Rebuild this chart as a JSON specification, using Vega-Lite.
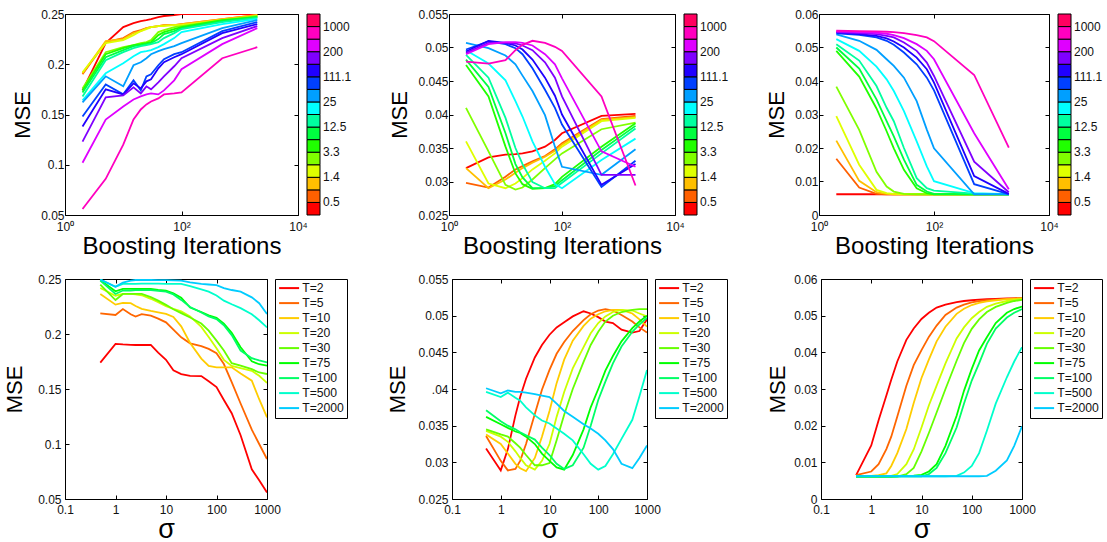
{
"$schema":"https://vega.github.io/schema/vega-lite/v6.json",
"background":"white",
"padding":{"left":3,"top":7,"right":0,"bottom":0},
"datasets":{
"tl":[
{"k":0,"it":2,"mse":0.174},{"k":0,"it":5,"mse":0.221},{"k":0,"it":10,"mse":0.237},{"k":0,"it":15,"mse":0.241},{"k":0,"it":20,"mse":0.243},{"k":0,"it":25,"mse":0.244},{"k":0,"it":30,"mse":0.245},{"k":0,"it":40,"mse":0.247},{"k":0,"it":50,"mse":0.248},{"k":0,"it":75,"mse":0.249},{"k":0,"it":100,"mse":0.25},{"k":0,"it":500,"mse":0.25},{"k":0,"it":2000,"mse":0.25},
{"k":1,"it":2,"mse":0.19},{"k":1,"it":5,"mse":0.222},{"k":1,"it":10,"mse":0.226},{"k":1,"it":15,"mse":0.232},{"k":1,"it":20,"mse":0.234},{"k":1,"it":25,"mse":0.236},{"k":1,"it":30,"mse":0.237},{"k":1,"it":40,"mse":0.238},{"k":1,"it":50,"mse":0.239},{"k":1,"it":75,"mse":0.239},{"k":1,"it":100,"mse":0.24},{"k":1,"it":500,"mse":0.245},{"k":1,"it":2000,"mse":0.249},
{"k":2,"it":2,"mse":0.191},{"k":2,"it":5,"mse":0.223},{"k":2,"it":10,"mse":0.225},{"k":2,"it":15,"mse":0.231},{"k":2,"it":20,"mse":0.233},{"k":2,"it":25,"mse":0.236},{"k":2,"it":30,"mse":0.237},{"k":2,"it":40,"mse":0.238},{"k":2,"it":50,"mse":0.239},{"k":2,"it":75,"mse":0.239},{"k":2,"it":100,"mse":0.24},{"k":2,"it":500,"mse":0.245},{"k":2,"it":2000,"mse":0.249},
{"k":3,"it":2,"mse":0.192},{"k":3,"it":5,"mse":0.221},{"k":3,"it":10,"mse":0.224},{"k":3,"it":15,"mse":0.229},{"k":3,"it":20,"mse":0.233},{"k":3,"it":25,"mse":0.235},{"k":3,"it":30,"mse":0.237},{"k":3,"it":40,"mse":0.238},{"k":3,"it":50,"mse":0.238},{"k":3,"it":75,"mse":0.239},{"k":3,"it":100,"mse":0.239},{"k":3,"it":500,"mse":0.244},{"k":3,"it":2000,"mse":0.248},
{"k":4,"it":2,"mse":0.176},{"k":4,"it":5,"mse":0.212},{"k":4,"it":10,"mse":0.217},{"k":4,"it":15,"mse":0.219},{"k":4,"it":20,"mse":0.221},{"k":4,"it":25,"mse":0.222},{"k":4,"it":30,"mse":0.224},{"k":4,"it":40,"mse":0.232},{"k":4,"it":50,"mse":0.234},{"k":4,"it":75,"mse":0.237},{"k":4,"it":100,"mse":0.238},{"k":4,"it":500,"mse":0.244},{"k":4,"it":2000,"mse":0.248},
{"k":5,"it":2,"mse":0.174},{"k":5,"it":5,"mse":0.21},{"k":5,"it":10,"mse":0.216},{"k":5,"it":15,"mse":0.219},{"k":5,"it":20,"mse":0.22},{"k":5,"it":25,"mse":0.221},{"k":5,"it":30,"mse":0.222},{"k":5,"it":40,"mse":0.229},{"k":5,"it":50,"mse":0.232},{"k":5,"it":75,"mse":0.235},{"k":5,"it":100,"mse":0.237},{"k":5,"it":500,"mse":0.244},{"k":5,"it":2000,"mse":0.247},
{"k":6,"it":2,"mse":0.172},{"k":6,"it":5,"mse":0.207},{"k":6,"it":10,"mse":0.214},{"k":6,"it":15,"mse":0.218},{"k":6,"it":20,"mse":0.219},{"k":6,"it":25,"mse":0.22},{"k":6,"it":30,"mse":0.221},{"k":6,"it":40,"mse":0.225},{"k":6,"it":50,"mse":0.23},{"k":6,"it":75,"mse":0.233},{"k":6,"it":100,"mse":0.236},{"k":6,"it":500,"mse":0.243},{"k":6,"it":2000,"mse":0.247},
{"k":7,"it":2,"mse":0.168},{"k":7,"it":5,"mse":0.204},{"k":7,"it":10,"mse":0.212},{"k":7,"it":15,"mse":0.216},{"k":7,"it":20,"mse":0.218},{"k":7,"it":25,"mse":0.219},{"k":7,"it":30,"mse":0.22},{"k":7,"it":40,"mse":0.222},{"k":7,"it":50,"mse":0.226},{"k":7,"it":75,"mse":0.231},{"k":7,"it":100,"mse":0.235},{"k":7,"it":500,"mse":0.242},{"k":7,"it":2000,"mse":0.246},
{"k":8,"it":2,"mse":0.164},{"k":8,"it":5,"mse":0.191},{"k":8,"it":10,"mse":0.201},{"k":8,"it":15,"mse":0.208},{"k":8,"it":20,"mse":0.212},{"k":8,"it":25,"mse":0.213},{"k":8,"it":30,"mse":0.214},{"k":8,"it":40,"mse":0.217},{"k":8,"it":50,"mse":0.22},{"k":8,"it":75,"mse":0.226},{"k":8,"it":100,"mse":0.232},{"k":8,"it":500,"mse":0.24},{"k":8,"it":2000,"mse":0.245},
{"k":9,"it":2,"mse":0.162},{"k":9,"it":5,"mse":0.188},{"k":9,"it":10,"mse":0.178},{"k":9,"it":15,"mse":0.199},{"k":9,"it":20,"mse":0.202},{"k":9,"it":25,"mse":0.206},{"k":9,"it":30,"mse":0.21},{"k":9,"it":40,"mse":0.213},{"k":9,"it":50,"mse":0.215},{"k":9,"it":75,"mse":0.218},{"k":9,"it":100,"mse":0.221},{"k":9,"it":500,"mse":0.236},{"k":9,"it":2000,"mse":0.244},
{"k":10,"it":2,"mse":0.148},{"k":10,"it":5,"mse":0.18},{"k":10,"it":10,"mse":0.17},{"k":10,"it":15,"mse":0.184},{"k":10,"it":20,"mse":0.174},{"k":10,"it":25,"mse":0.188},{"k":10,"it":30,"mse":0.19},{"k":10,"it":40,"mse":0.199},{"k":10,"it":50,"mse":0.205},{"k":10,"it":75,"mse":0.21},{"k":10,"it":100,"mse":0.212},{"k":10,"it":500,"mse":0.233},{"k":10,"it":2000,"mse":0.242},
{"k":11,"it":2,"mse":0.138},{"k":11,"it":5,"mse":0.175},{"k":11,"it":10,"mse":0.17},{"k":11,"it":15,"mse":0.181},{"k":11,"it":20,"mse":0.176},{"k":11,"it":25,"mse":0.183},{"k":11,"it":30,"mse":0.185},{"k":11,"it":40,"mse":0.196},{"k":11,"it":50,"mse":0.202},{"k":11,"it":75,"mse":0.207},{"k":11,"it":100,"mse":0.21},{"k":11,"it":500,"mse":0.231},{"k":11,"it":2000,"mse":0.24},
{"k":12,"it":2,"mse":0.123},{"k":12,"it":5,"mse":0.167},{"k":12,"it":10,"mse":0.169},{"k":12,"it":15,"mse":0.177},{"k":12,"it":20,"mse":0.171},{"k":12,"it":25,"mse":0.178},{"k":12,"it":30,"mse":0.175},{"k":12,"it":40,"mse":0.182},{"k":12,"it":50,"mse":0.188},{"k":12,"it":75,"mse":0.198},{"k":12,"it":100,"mse":0.206},{"k":12,"it":500,"mse":0.226},{"k":12,"it":2000,"mse":0.238},
{"k":13,"it":2,"mse":0.102},{"k":13,"it":5,"mse":0.145},{"k":13,"it":10,"mse":0.158},{"k":13,"it":15,"mse":0.165},{"k":13,"it":20,"mse":0.168},{"k":13,"it":25,"mse":0.17},{"k":13,"it":30,"mse":0.171},{"k":13,"it":40,"mse":0.17},{"k":13,"it":50,"mse":0.174},{"k":13,"it":75,"mse":0.184},{"k":13,"it":100,"mse":0.195},{"k":13,"it":500,"mse":0.22},{"k":13,"it":2000,"mse":0.236},
{"k":14,"it":2,"mse":0.056},{"k":14,"it":5,"mse":0.086},{"k":14,"it":10,"mse":0.12},{"k":14,"it":15,"mse":0.145},{"k":14,"it":20,"mse":0.155},{"k":14,"it":25,"mse":0.16},{"k":14,"it":30,"mse":0.163},{"k":14,"it":40,"mse":0.166},{"k":14,"it":50,"mse":0.17},{"k":14,"it":75,"mse":0.171},{"k":14,"it":100,"mse":0.172},{"k":14,"it":500,"mse":0.206},{"k":14,"it":2000,"mse":0.217}
],
"tm":[
{"k":0,"it":2,"mse":0.032},{"k":0,"it":5,"mse":0.0336},{"k":0,"it":10,"mse":0.034},{"k":0,"it":15,"mse":0.0341},{"k":0,"it":20,"mse":0.0342},{"k":0,"it":30,"mse":0.0345},{"k":0,"it":50,"mse":0.0352},{"k":0,"it":75,"mse":0.0362},{"k":0,"it":100,"mse":0.0372},{"k":0,"it":500,"mse":0.0398},{"k":0,"it":2000,"mse":0.0401},
{"k":1,"it":2,"mse":0.0298},{"k":1,"it":5,"mse":0.0291},{"k":1,"it":10,"mse":0.0307},{"k":1,"it":15,"mse":0.0318},{"k":1,"it":20,"mse":0.0323},{"k":1,"it":30,"mse":0.033},{"k":1,"it":50,"mse":0.0338},{"k":1,"it":75,"mse":0.0348},{"k":1,"it":100,"mse":0.0357},{"k":1,"it":500,"mse":0.0393},{"k":1,"it":2000,"mse":0.0398},
{"k":2,"it":2,"mse":0.032},{"k":2,"it":5,"mse":0.029},{"k":2,"it":10,"mse":0.0303},{"k":2,"it":15,"mse":0.0313},{"k":2,"it":20,"mse":0.032},{"k":2,"it":30,"mse":0.0328},{"k":2,"it":50,"mse":0.0337},{"k":2,"it":75,"mse":0.0346},{"k":2,"it":100,"mse":0.0355},{"k":2,"it":500,"mse":0.0392},{"k":2,"it":2000,"mse":0.0396},
{"k":3,"it":2,"mse":0.036},{"k":3,"it":5,"mse":0.0297},{"k":3,"it":10,"mse":0.029},{"k":3,"it":15,"mse":0.0297},{"k":3,"it":20,"mse":0.0305},{"k":3,"it":30,"mse":0.0318},{"k":3,"it":50,"mse":0.0331},{"k":3,"it":75,"mse":0.0342},{"k":3,"it":100,"mse":0.0352},{"k":3,"it":500,"mse":0.039},{"k":3,"it":2000,"mse":0.0395},
{"k":4,"it":2,"mse":0.041},{"k":4,"it":5,"mse":0.0345},{"k":4,"it":10,"mse":0.0295},{"k":4,"it":15,"mse":0.0288},{"k":4,"it":20,"mse":0.0291},{"k":4,"it":30,"mse":0.0303},{"k":4,"it":50,"mse":0.032},{"k":4,"it":75,"mse":0.0333},{"k":4,"it":100,"mse":0.0342},{"k":4,"it":500,"mse":0.0378},{"k":4,"it":2000,"mse":0.0388},
{"k":5,"it":2,"mse":0.0474},{"k":5,"it":5,"mse":0.0427},{"k":5,"it":10,"mse":0.0352},{"k":5,"it":15,"mse":0.0312},{"k":5,"it":20,"mse":0.0296},{"k":5,"it":30,"mse":0.0289},{"k":5,"it":50,"mse":0.029},{"k":5,"it":75,"mse":0.0296},{"k":5,"it":100,"mse":0.0307},{"k":5,"it":500,"mse":0.0352},{"k":5,"it":2000,"mse":0.0387},
{"k":6,"it":2,"mse":0.0482},{"k":6,"it":5,"mse":0.0441},{"k":6,"it":10,"mse":0.0372},{"k":6,"it":15,"mse":0.0326},{"k":6,"it":20,"mse":0.0306},{"k":6,"it":30,"mse":0.029},{"k":6,"it":50,"mse":0.029},{"k":6,"it":75,"mse":0.0293},{"k":6,"it":100,"mse":0.0302},{"k":6,"it":500,"mse":0.0347},{"k":6,"it":2000,"mse":0.0383},
{"k":7,"it":2,"mse":0.0489},{"k":7,"it":5,"mse":0.0455},{"k":7,"it":10,"mse":0.0395},{"k":7,"it":15,"mse":0.035},{"k":7,"it":20,"mse":0.0326},{"k":7,"it":30,"mse":0.0299},{"k":7,"it":50,"mse":0.029},{"k":7,"it":75,"mse":0.029},{"k":7,"it":100,"mse":0.0298},{"k":7,"it":500,"mse":0.0342},{"k":7,"it":2000,"mse":0.0379},
{"k":8,"it":2,"mse":0.0496},{"k":8,"it":5,"mse":0.0476},{"k":8,"it":10,"mse":0.0451},{"k":8,"it":15,"mse":0.042},{"k":8,"it":20,"mse":0.0397},{"k":8,"it":30,"mse":0.036},{"k":8,"it":50,"mse":0.0322},{"k":8,"it":75,"mse":0.0296},{"k":8,"it":100,"mse":0.029},{"k":8,"it":500,"mse":0.0332},{"k":8,"it":2000,"mse":0.0364},
{"k":9,"it":2,"mse":0.0507},{"k":9,"it":5,"mse":0.0499},{"k":9,"it":10,"mse":0.0488},{"k":9,"it":15,"mse":0.0475},{"k":9,"it":20,"mse":0.0458},{"k":9,"it":30,"mse":0.0435},{"k":9,"it":50,"mse":0.0399},{"k":9,"it":75,"mse":0.0352},{"k":9,"it":100,"mse":0.0322},{"k":9,"it":500,"mse":0.031},{"k":9,"it":2000,"mse":0.0348},
{"k":10,"it":2,"mse":0.0497},{"k":10,"it":5,"mse":0.0509},{"k":10,"it":10,"mse":0.0505},{"k":10,"it":15,"mse":0.0499},{"k":10,"it":20,"mse":0.049},{"k":10,"it":30,"mse":0.0469},{"k":10,"it":50,"mse":0.0437},{"k":10,"it":75,"mse":0.041},{"k":10,"it":100,"mse":0.0385},{"k":10,"it":500,"mse":0.0292},{"k":10,"it":2000,"mse":0.0331},
{"k":11,"it":2,"mse":0.0494},{"k":11,"it":5,"mse":0.051},{"k":11,"it":10,"mse":0.0507},{"k":11,"it":15,"mse":0.0503},{"k":11,"it":20,"mse":0.0497},{"k":11,"it":30,"mse":0.0482},{"k":11,"it":50,"mse":0.0455},{"k":11,"it":75,"mse":0.0428},{"k":11,"it":100,"mse":0.04},{"k":11,"it":500,"mse":0.0295},{"k":11,"it":2000,"mse":0.0326},
{"k":12,"it":2,"mse":0.0492},{"k":12,"it":5,"mse":0.0507},{"k":12,"it":10,"mse":0.0507},{"k":12,"it":15,"mse":0.0506},{"k":12,"it":20,"mse":0.0503},{"k":12,"it":30,"mse":0.0496},{"k":12,"it":50,"mse":0.0478},{"k":12,"it":75,"mse":0.0455},{"k":12,"it":100,"mse":0.0427},{"k":12,"it":500,"mse":0.031},{"k":12,"it":2000,"mse":0.031},
{"k":13,"it":2,"mse":0.049},{"k":13,"it":5,"mse":0.0505},{"k":13,"it":10,"mse":0.0508},{"k":13,"it":15,"mse":0.0508},{"k":13,"it":20,"mse":0.0507},{"k":13,"it":30,"mse":0.0503},{"k":13,"it":50,"mse":0.049},{"k":13,"it":75,"mse":0.0475},{"k":13,"it":100,"mse":0.0454},{"k":13,"it":500,"mse":0.0345},{"k":13,"it":2000,"mse":0.0322},
{"k":14,"it":2,"mse":0.0479},{"k":14,"it":5,"mse":0.0476},{"k":14,"it":10,"mse":0.0481},{"k":14,"it":15,"mse":0.0496},{"k":14,"it":20,"mse":0.0504},{"k":14,"it":30,"mse":0.051},{"k":14,"it":50,"mse":0.0507},{"k":14,"it":75,"mse":0.0501},{"k":14,"it":100,"mse":0.0495},{"k":14,"it":500,"mse":0.0427},{"k":14,"it":2000,"mse":0.0294}
],
"tr":[
{"k":0,"it":2,"mse":0.0062},{"k":0,"it":5,"mse":0.0062},{"k":0,"it":10,"mse":0.0062},{"k":0,"it":15,"mse":0.0062},{"k":0,"it":20,"mse":0.0062},{"k":0,"it":30,"mse":0.0062},{"k":0,"it":50,"mse":0.0062},{"k":0,"it":75,"mse":0.0062},{"k":0,"it":100,"mse":0.0062},{"k":0,"it":500,"mse":0.0062},{"k":0,"it":2000,"mse":0.0062},
{"k":1,"it":2,"mse":0.0168},{"k":1,"it":5,"mse":0.0082},{"k":1,"it":10,"mse":0.0063},{"k":1,"it":15,"mse":0.0062},{"k":1,"it":20,"mse":0.0062},{"k":1,"it":30,"mse":0.0062},{"k":1,"it":50,"mse":0.0062},{"k":1,"it":75,"mse":0.0062},{"k":1,"it":100,"mse":0.0062},{"k":1,"it":500,"mse":0.0062},{"k":1,"it":2000,"mse":0.0062},
{"k":2,"it":2,"mse":0.0222},{"k":2,"it":5,"mse":0.0102},{"k":2,"it":10,"mse":0.0068},{"k":2,"it":15,"mse":0.0063},{"k":2,"it":20,"mse":0.0062},{"k":2,"it":30,"mse":0.0062},{"k":2,"it":50,"mse":0.0062},{"k":2,"it":75,"mse":0.0062},{"k":2,"it":100,"mse":0.0062},{"k":2,"it":500,"mse":0.0062},{"k":2,"it":2000,"mse":0.0062},
{"k":3,"it":2,"mse":0.0295},{"k":3,"it":5,"mse":0.015},{"k":3,"it":10,"mse":0.0075},{"k":3,"it":15,"mse":0.0065},{"k":3,"it":20,"mse":0.0063},{"k":3,"it":30,"mse":0.0062},{"k":3,"it":50,"mse":0.0062},{"k":3,"it":75,"mse":0.0062},{"k":3,"it":100,"mse":0.0062},{"k":3,"it":500,"mse":0.0062},{"k":3,"it":2000,"mse":0.0062},
{"k":4,"it":2,"mse":0.0383},{"k":4,"it":5,"mse":0.0254},{"k":4,"it":10,"mse":0.0129},{"k":4,"it":15,"mse":0.0085},{"k":4,"it":20,"mse":0.007},{"k":4,"it":30,"mse":0.0063},{"k":4,"it":50,"mse":0.0062},{"k":4,"it":75,"mse":0.0062},{"k":4,"it":100,"mse":0.0062},{"k":4,"it":500,"mse":0.0062},{"k":4,"it":2000,"mse":0.0062},
{"k":5,"it":2,"mse":0.049},{"k":5,"it":5,"mse":0.0413},{"k":5,"it":10,"mse":0.0318},{"k":5,"it":15,"mse":0.025},{"k":5,"it":20,"mse":0.0199},{"k":5,"it":30,"mse":0.0135},{"k":5,"it":50,"mse":0.008},{"k":5,"it":75,"mse":0.0065},{"k":5,"it":100,"mse":0.0062},{"k":5,"it":500,"mse":0.0062},{"k":5,"it":2000,"mse":0.0062},
{"k":6,"it":2,"mse":0.05},{"k":6,"it":5,"mse":0.0437},{"k":6,"it":10,"mse":0.0345},{"k":6,"it":15,"mse":0.028},{"k":6,"it":20,"mse":0.0235},{"k":6,"it":30,"mse":0.0165},{"k":6,"it":50,"mse":0.009},{"k":6,"it":75,"mse":0.007},{"k":6,"it":100,"mse":0.0063},{"k":6,"it":500,"mse":0.0062},{"k":6,"it":2000,"mse":0.0062},
{"k":7,"it":2,"mse":0.051},{"k":7,"it":5,"mse":0.0461},{"k":7,"it":10,"mse":0.0385},{"k":7,"it":15,"mse":0.032},{"k":7,"it":20,"mse":0.028},{"k":7,"it":30,"mse":0.02},{"k":7,"it":50,"mse":0.011},{"k":7,"it":75,"mse":0.008},{"k":7,"it":100,"mse":0.0073},{"k":7,"it":500,"mse":0.0064},{"k":7,"it":2000,"mse":0.0062},
{"k":8,"it":2,"mse":0.0525},{"k":8,"it":5,"mse":0.049},{"k":8,"it":10,"mse":0.0443},{"k":8,"it":15,"mse":0.0405},{"k":8,"it":20,"mse":0.037},{"k":8,"it":30,"mse":0.031},{"k":8,"it":50,"mse":0.022},{"k":8,"it":75,"mse":0.0145},{"k":8,"it":100,"mse":0.0101},{"k":8,"it":500,"mse":0.0065},{"k":8,"it":2000,"mse":0.0062},
{"k":9,"it":2,"mse":0.0539},{"k":9,"it":5,"mse":0.052},{"k":9,"it":10,"mse":0.0493},{"k":9,"it":15,"mse":0.0465},{"k":9,"it":20,"mse":0.0445},{"k":9,"it":30,"mse":0.041},{"k":9,"it":50,"mse":0.034},{"k":9,"it":75,"mse":0.0255},{"k":9,"it":100,"mse":0.0199},{"k":9,"it":500,"mse":0.0062},{"k":9,"it":2000,"mse":0.0062},
{"k":10,"it":2,"mse":0.0542},{"k":10,"it":5,"mse":0.0538},{"k":10,"it":10,"mse":0.053},{"k":10,"it":15,"mse":0.052},{"k":10,"it":20,"mse":0.0508},{"k":10,"it":30,"mse":0.0485},{"k":10,"it":50,"mse":0.045},{"k":10,"it":75,"mse":0.041},{"k":10,"it":100,"mse":0.0372},{"k":10,"it":500,"mse":0.0092},{"k":10,"it":2000,"mse":0.0062},
{"k":11,"it":2,"mse":0.0545},{"k":11,"it":5,"mse":0.054},{"k":11,"it":10,"mse":0.0535},{"k":11,"it":15,"mse":0.0527},{"k":11,"it":20,"mse":0.0518},{"k":11,"it":30,"mse":0.05},{"k":11,"it":50,"mse":0.047},{"k":11,"it":75,"mse":0.0435},{"k":11,"it":100,"mse":0.0395},{"k":11,"it":500,"mse":0.0116},{"k":11,"it":2000,"mse":0.0063},
{"k":12,"it":2,"mse":0.0546},{"k":12,"it":5,"mse":0.0543},{"k":12,"it":10,"mse":0.054},{"k":12,"it":15,"mse":0.0535},{"k":12,"it":20,"mse":0.053},{"k":12,"it":30,"mse":0.0515},{"k":12,"it":50,"mse":0.049},{"k":12,"it":75,"mse":0.0455},{"k":12,"it":100,"mse":0.0415},{"k":12,"it":500,"mse":0.0159},{"k":12,"it":2000,"mse":0.0068},
{"k":13,"it":2,"mse":0.0548},{"k":13,"it":5,"mse":0.0546},{"k":13,"it":10,"mse":0.0544},{"k":13,"it":15,"mse":0.0541},{"k":13,"it":20,"mse":0.0537},{"k":13,"it":30,"mse":0.0528},{"k":13,"it":50,"mse":0.051},{"k":13,"it":75,"mse":0.049},{"k":13,"it":100,"mse":0.0465},{"k":13,"it":500,"mse":0.0244},{"k":13,"it":2000,"mse":0.0077},
{"k":14,"it":2,"mse":0.055},{"k":14,"it":5,"mse":0.0549},{"k":14,"it":10,"mse":0.0548},{"k":14,"it":15,"mse":0.0547},{"k":14,"it":20,"mse":0.0546},{"k":14,"it":30,"mse":0.0543},{"k":14,"it":50,"mse":0.0537},{"k":14,"it":75,"mse":0.053},{"k":14,"it":100,"mse":0.0519},{"k":14,"it":500,"mse":0.0418},{"k":14,"it":2000,"mse":0.0201}
],
"bl":[
{"T":2,"sig":0.5,"mse":0.174},{"T":2,"sig":1,"mse":0.191},{"T":2,"sig":1.4,"mse":0.1905},{"T":2,"sig":2,"mse":0.1902},{"T":2,"sig":2.5,"mse":0.19},{"T":2,"sig":3.3,"mse":0.19},{"T":2,"sig":5,"mse":0.19},{"T":2,"sig":7,"mse":0.183},{"T":2,"sig":10,"mse":0.1765},{"T":2,"sig":14,"mse":0.167},{"T":2,"sig":20,"mse":0.1636},{"T":2,"sig":30,"mse":0.162},{"T":2,"sig":50,"mse":0.1618},{"T":2,"sig":70,"mse":0.157},{"T":2,"sig":100,"mse":0.1518},{"T":2,"sig":140,"mse":0.14},{"T":2,"sig":200,"mse":0.128},{"T":2,"sig":300,"mse":0.108},{"T":2,"sig":500,"mse":0.077},{"T":2,"sig":700,"mse":0.067},{"T":2,"sig":1000,"mse":0.056},
{"T":5,"sig":0.5,"mse":0.2188},{"T":5,"sig":1,"mse":0.2173},{"T":5,"sig":1.4,"mse":0.2227},{"T":5,"sig":2,"mse":0.218},{"T":5,"sig":2.5,"mse":0.2158},{"T":5,"sig":3.3,"mse":0.218},{"T":5,"sig":5,"mse":0.2167},{"T":5,"sig":7,"mse":0.214},{"T":5,"sig":10,"mse":0.2106},{"T":5,"sig":14,"mse":0.204},{"T":5,"sig":20,"mse":0.197},{"T":5,"sig":30,"mse":0.1915},{"T":5,"sig":50,"mse":0.189},{"T":5,"sig":70,"mse":0.1865},{"T":5,"sig":100,"mse":0.1825},{"T":5,"sig":140,"mse":0.1727},{"T":5,"sig":200,"mse":0.1563},{"T":5,"sig":300,"mse":0.1368},{"T":5,"sig":500,"mse":0.113},{"T":5,"sig":700,"mse":0.1},{"T":5,"sig":1000,"mse":0.0864},
{"T":10,"sig":0.5,"mse":0.2364},{"T":10,"sig":1,"mse":0.2267},{"T":10,"sig":1.4,"mse":0.2282},{"T":10,"sig":2,"mse":0.228},{"T":10,"sig":2.5,"mse":0.2255},{"T":10,"sig":3.3,"mse":0.2228},{"T":10,"sig":5,"mse":0.221},{"T":10,"sig":7,"mse":0.2197},{"T":10,"sig":10,"mse":0.2182},{"T":10,"sig":14,"mse":0.2155},{"T":10,"sig":20,"mse":0.207},{"T":10,"sig":30,"mse":0.1918},{"T":10,"sig":50,"mse":0.1776},{"T":10,"sig":70,"mse":0.171},{"T":10,"sig":100,"mse":0.1697},{"T":10,"sig":140,"mse":0.1697},{"T":10,"sig":200,"mse":0.1697},{"T":10,"sig":300,"mse":0.164},{"T":10,"sig":500,"mse":0.1576},{"T":10,"sig":700,"mse":0.1407},{"T":10,"sig":1000,"mse":0.1242},
{"T":20,"sig":0.5,"mse":0.2418},{"T":20,"sig":1,"mse":0.2348},{"T":20,"sig":1.4,"mse":0.2365},{"T":20,"sig":2,"mse":0.2365},{"T":20,"sig":2.5,"mse":0.236},{"T":20,"sig":3.3,"mse":0.2352},{"T":20,"sig":5,"mse":0.232},{"T":20,"sig":7,"mse":0.229},{"T":20,"sig":10,"mse":0.2252},{"T":20,"sig":14,"mse":0.2228},{"T":20,"sig":20,"mse":0.2205},{"T":20,"sig":30,"mse":0.216},{"T":20,"sig":50,"mse":0.2065},{"T":20,"sig":70,"mse":0.1972},{"T":20,"sig":100,"mse":0.187},{"T":20,"sig":140,"mse":0.1765},{"T":20,"sig":200,"mse":0.171},{"T":20,"sig":300,"mse":0.169},{"T":20,"sig":500,"mse":0.1665},{"T":20,"sig":700,"mse":0.162},{"T":20,"sig":1000,"mse":0.1555},
{"T":30,"sig":0.5,"mse":0.2448},{"T":30,"sig":1,"mse":0.2309},{"T":30,"sig":1.4,"mse":0.2364},{"T":30,"sig":2,"mse":0.2364},{"T":30,"sig":2.5,"mse":0.2364},{"T":30,"sig":3.3,"mse":0.2364},{"T":30,"sig":5,"mse":0.2335},{"T":30,"sig":7,"mse":0.2303},{"T":30,"sig":10,"mse":0.2265},{"T":30,"sig":14,"mse":0.2225},{"T":30,"sig":20,"mse":0.219},{"T":30,"sig":30,"mse":0.215},{"T":30,"sig":50,"mse":0.2095},{"T":30,"sig":70,"mse":0.203},{"T":30,"sig":100,"mse":0.194},{"T":30,"sig":140,"mse":0.185},{"T":30,"sig":200,"mse":0.1735},{"T":30,"sig":300,"mse":0.1712},{"T":30,"sig":500,"mse":0.168},{"T":30,"sig":700,"mse":0.165},{"T":30,"sig":1000,"mse":0.1636},
{"T":75,"sig":0.5,"mse":0.249},{"T":75,"sig":1,"mse":0.2388},{"T":75,"sig":1.4,"mse":0.241},{"T":75,"sig":2,"mse":0.241},{"T":75,"sig":2.5,"mse":0.2409},{"T":75,"sig":3.3,"mse":0.2409},{"T":75,"sig":5,"mse":0.2409},{"T":75,"sig":7,"mse":0.24},{"T":75,"sig":10,"mse":0.2394},{"T":75,"sig":14,"mse":0.237},{"T":75,"sig":20,"mse":0.233},{"T":75,"sig":30,"mse":0.224},{"T":75,"sig":50,"mse":0.22},{"T":75,"sig":70,"mse":0.217},{"T":75,"sig":100,"mse":0.2148},{"T":75,"sig":140,"mse":0.2095},{"T":75,"sig":200,"mse":0.201},{"T":75,"sig":300,"mse":0.188},{"T":75,"sig":500,"mse":0.1752},{"T":75,"sig":700,"mse":0.1725},{"T":75,"sig":1000,"mse":0.1712},
{"T":100,"sig":0.5,"mse":0.2485},{"T":100,"sig":1,"mse":0.2364},{"T":100,"sig":1.4,"mse":0.2395},{"T":100,"sig":2,"mse":0.2395},{"T":100,"sig":2.5,"mse":0.2398},{"T":100,"sig":3.3,"mse":0.2398},{"T":100,"sig":5,"mse":0.2398},{"T":100,"sig":7,"mse":0.2392},{"T":100,"sig":10,"mse":0.2385},{"T":100,"sig":14,"mse":0.236},{"T":100,"sig":20,"mse":0.231},{"T":100,"sig":30,"mse":0.2245},{"T":100,"sig":50,"mse":0.2195},{"T":100,"sig":70,"mse":0.216},{"T":100,"sig":100,"mse":0.2135},{"T":100,"sig":140,"mse":0.208},{"T":100,"sig":200,"mse":0.199},{"T":100,"sig":300,"mse":0.185},{"T":100,"sig":500,"mse":0.178},{"T":100,"sig":700,"mse":0.176},{"T":100,"sig":1000,"mse":0.1742},
{"T":500,"sig":0.5,"mse":0.2495},{"T":500,"sig":1,"mse":0.243},{"T":500,"sig":1.4,"mse":0.2455},{"T":500,"sig":2,"mse":0.2455},{"T":500,"sig":2.5,"mse":0.2455},{"T":500,"sig":3.3,"mse":0.2458},{"T":500,"sig":5,"mse":0.2458},{"T":500,"sig":7,"mse":0.2458},{"T":500,"sig":10,"mse":0.2455},{"T":500,"sig":14,"mse":0.2455},{"T":500,"sig":20,"mse":0.2455},{"T":500,"sig":30,"mse":0.2435},{"T":500,"sig":50,"mse":0.2405},{"T":500,"sig":70,"mse":0.2385},{"T":500,"sig":100,"mse":0.235},{"T":500,"sig":140,"mse":0.2303},{"T":500,"sig":200,"mse":0.227},{"T":500,"sig":300,"mse":0.2235},{"T":500,"sig":500,"mse":0.218},{"T":500,"sig":700,"mse":0.2125},{"T":500,"sig":1000,"mse":0.206},
{"T":2000,"sig":0.5,"mse":0.2495},{"T":2000,"sig":1,"mse":0.243},{"T":2000,"sig":1.4,"mse":0.2468},{"T":2000,"sig":2,"mse":0.2485},{"T":2000,"sig":2.5,"mse":0.2491},{"T":2000,"sig":3.3,"mse":0.2491},{"T":2000,"sig":5,"mse":0.2491},{"T":2000,"sig":7,"mse":0.249},{"T":2000,"sig":10,"mse":0.249},{"T":2000,"sig":14,"mse":0.2488},{"T":2000,"sig":20,"mse":0.2485},{"T":2000,"sig":30,"mse":0.247},{"T":2000,"sig":50,"mse":0.2455},{"T":2000,"sig":70,"mse":0.245},{"T":2000,"sig":100,"mse":0.2445},{"T":2000,"sig":140,"mse":0.2418},{"T":2000,"sig":200,"mse":0.24},{"T":2000,"sig":300,"mse":0.2385},{"T":2000,"sig":500,"mse":0.2333},{"T":2000,"sig":700,"mse":0.228},{"T":2000,"sig":1000,"mse":0.2182}
],
"bm":[
{"T":2,"sig":0.5,"mse":0.0319},{"T":2,"sig":1,"mse":0.0289},{"T":2,"sig":1.4,"mse":0.0318},{"T":2,"sig":2,"mse":0.0364},{"T":2,"sig":2.5,"mse":0.0389},{"T":2,"sig":3.3,"mse":0.0414},{"T":2,"sig":5,"mse":0.0443},{"T":2,"sig":7,"mse":0.046},{"T":2,"sig":10,"mse":0.0474},{"T":2,"sig":14,"mse":0.0484},{"T":2,"sig":20,"mse":0.0491},{"T":2,"sig":30,"mse":0.0499},{"T":2,"sig":50,"mse":0.0506},{"T":2,"sig":70,"mse":0.0503},{"T":2,"sig":100,"mse":0.0498},{"T":2,"sig":140,"mse":0.0492},{"T":2,"sig":200,"mse":0.049},{"T":2,"sig":300,"mse":0.0481},{"T":2,"sig":500,"mse":0.0477},{"T":2,"sig":700,"mse":0.0479},{"T":2,"sig":1000,"mse":0.0495},
{"T":5,"sig":0.5,"mse":0.0336},{"T":5,"sig":1,"mse":0.0302},{"T":5,"sig":1.4,"mse":0.0289},{"T":5,"sig":2,"mse":0.0291},{"T":5,"sig":2.5,"mse":0.0302},{"T":5,"sig":3.3,"mse":0.0325},{"T":5,"sig":5,"mse":0.0366},{"T":5,"sig":7,"mse":0.0399},{"T":5,"sig":10,"mse":0.0426},{"T":5,"sig":14,"mse":0.0448},{"T":5,"sig":20,"mse":0.0464},{"T":5,"sig":30,"mse":0.0479},{"T":5,"sig":50,"mse":0.0494},{"T":5,"sig":70,"mse":0.0502},{"T":5,"sig":100,"mse":0.0507},{"T":5,"sig":140,"mse":0.0509},{"T":5,"sig":200,"mse":0.0507},{"T":5,"sig":300,"mse":0.0501},{"T":5,"sig":500,"mse":0.0492},{"T":5,"sig":700,"mse":0.0484},{"T":5,"sig":1000,"mse":0.0477},
{"T":10,"sig":0.5,"mse":0.0338},{"T":10,"sig":1,"mse":0.0325},{"T":10,"sig":1.4,"mse":0.0312},{"T":10,"sig":2,"mse":0.0298},{"T":10,"sig":2.5,"mse":0.0292},{"T":10,"sig":3.3,"mse":0.0288},{"T":10,"sig":5,"mse":0.0306},{"T":10,"sig":7,"mse":0.0335},{"T":10,"sig":10,"mse":0.037},{"T":10,"sig":14,"mse":0.0408},{"T":10,"sig":20,"mse":0.044},{"T":10,"sig":30,"mse":0.0466},{"T":10,"sig":50,"mse":0.0486},{"T":10,"sig":70,"mse":0.0496},{"T":10,"sig":100,"mse":0.0502},{"T":10,"sig":140,"mse":0.0506},{"T":10,"sig":200,"mse":0.0508},{"T":10,"sig":300,"mse":0.0508},{"T":10,"sig":500,"mse":0.0503},{"T":10,"sig":700,"mse":0.0495},{"T":10,"sig":1000,"mse":0.0485},
{"T":20,"sig":0.5,"mse":0.0343},{"T":20,"sig":1,"mse":0.0335},{"T":20,"sig":1.4,"mse":0.0328},{"T":20,"sig":2,"mse":0.0315},{"T":20,"sig":2.5,"mse":0.0306},{"T":20,"sig":3.3,"mse":0.0296},{"T":20,"sig":5,"mse":0.029},{"T":20,"sig":7,"mse":0.0302},{"T":20,"sig":10,"mse":0.0325},{"T":20,"sig":14,"mse":0.0362},{"T":20,"sig":20,"mse":0.0396},{"T":20,"sig":30,"mse":0.0428},{"T":20,"sig":50,"mse":0.0457},{"T":20,"sig":70,"mse":0.0476},{"T":20,"sig":100,"mse":0.049},{"T":20,"sig":140,"mse":0.0499},{"T":20,"sig":200,"mse":0.0505},{"T":20,"sig":300,"mse":0.0508},{"T":20,"sig":500,"mse":0.0507},{"T":20,"sig":700,"mse":0.0503},{"T":20,"sig":1000,"mse":0.0499},
{"T":30,"sig":0.5,"mse":0.0345},{"T":30,"sig":1,"mse":0.0338},{"T":30,"sig":1.4,"mse":0.0335},{"T":30,"sig":2,"mse":0.0326},{"T":30,"sig":2.5,"mse":0.032},{"T":30,"sig":3.3,"mse":0.031},{"T":30,"sig":5,"mse":0.0296},{"T":30,"sig":7,"mse":0.0296},{"T":30,"sig":10,"mse":0.0299},{"T":30,"sig":14,"mse":0.033},{"T":30,"sig":20,"mse":0.0365},{"T":30,"sig":30,"mse":0.04},{"T":30,"sig":50,"mse":0.0437},{"T":30,"sig":70,"mse":0.046},{"T":30,"sig":100,"mse":0.0478},{"T":30,"sig":140,"mse":0.0492},{"T":30,"sig":200,"mse":0.05},{"T":30,"sig":300,"mse":0.0505},{"T":30,"sig":500,"mse":0.0508},{"T":30,"sig":700,"mse":0.0509},{"T":30,"sig":1000,"mse":0.0509},
{"T":75,"sig":0.5,"mse":0.0362},{"T":75,"sig":1,"mse":0.0352},{"T":75,"sig":1.4,"mse":0.0347},{"T":75,"sig":2,"mse":0.0342},{"T":75,"sig":2.5,"mse":0.034},{"T":75,"sig":3.3,"mse":0.0335},{"T":75,"sig":5,"mse":0.0325},{"T":75,"sig":7,"mse":0.0312},{"T":75,"sig":10,"mse":0.0302},{"T":75,"sig":14,"mse":0.0293},{"T":75,"sig":20,"mse":0.029},{"T":75,"sig":30,"mse":0.031},{"T":75,"sig":50,"mse":0.0345},{"T":75,"sig":70,"mse":0.0375},{"T":75,"sig":100,"mse":0.04},{"T":75,"sig":140,"mse":0.0425},{"T":75,"sig":200,"mse":0.0445},{"T":75,"sig":300,"mse":0.0465},{"T":75,"sig":500,"mse":0.0483},{"T":75,"sig":700,"mse":0.0492},{"T":75,"sig":1000,"mse":0.05},
{"T":100,"sig":0.5,"mse":0.0371},{"T":100,"sig":1,"mse":0.0356},{"T":100,"sig":1.4,"mse":0.035},{"T":100,"sig":2,"mse":0.0345},{"T":100,"sig":2.5,"mse":0.0341},{"T":100,"sig":3.3,"mse":0.0337},{"T":100,"sig":5,"mse":0.0331},{"T":100,"sig":7,"mse":0.032},{"T":100,"sig":10,"mse":0.031},{"T":100,"sig":14,"mse":0.0298},{"T":100,"sig":20,"mse":0.0291},{"T":100,"sig":30,"mse":0.0296},{"T":100,"sig":50,"mse":0.032},{"T":100,"sig":70,"mse":0.035},{"T":100,"sig":100,"mse":0.0385},{"T":100,"sig":140,"mse":0.041},{"T":100,"sig":200,"mse":0.0435},{"T":100,"sig":300,"mse":0.0458},{"T":100,"sig":500,"mse":0.0478},{"T":100,"sig":700,"mse":0.0488},{"T":100,"sig":1000,"mse":0.0497},
{"T":500,"sig":0.5,"mse":0.0396},{"T":500,"sig":1,"mse":0.0389},{"T":500,"sig":1.4,"mse":0.0395},{"T":500,"sig":2,"mse":0.0388},{"T":500,"sig":2.5,"mse":0.0384},{"T":500,"sig":3.3,"mse":0.0375},{"T":500,"sig":5,"mse":0.0364},{"T":500,"sig":7,"mse":0.0357},{"T":500,"sig":10,"mse":0.0353},{"T":500,"sig":14,"mse":0.0346},{"T":500,"sig":20,"mse":0.0339},{"T":500,"sig":30,"mse":0.033},{"T":500,"sig":50,"mse":0.0311},{"T":500,"sig":70,"mse":0.0298},{"T":500,"sig":100,"mse":0.029},{"T":500,"sig":140,"mse":0.0295},{"T":500,"sig":200,"mse":0.0311},{"T":500,"sig":300,"mse":0.0332},{"T":500,"sig":500,"mse":0.0358},{"T":500,"sig":700,"mse":0.039},{"T":500,"sig":1000,"mse":0.0426},
{"T":2000,"sig":0.5,"mse":0.0401},{"T":2000,"sig":1,"mse":0.0394},{"T":2000,"sig":1.4,"mse":0.0398},{"T":2000,"sig":2,"mse":0.0396},{"T":2000,"sig":2.5,"mse":0.0396},{"T":2000,"sig":3.3,"mse":0.0395},{"T":2000,"sig":5,"mse":0.0393},{"T":2000,"sig":7,"mse":0.0391},{"T":2000,"sig":10,"mse":0.0389},{"T":2000,"sig":14,"mse":0.038},{"T":2000,"sig":20,"mse":0.037},{"T":2000,"sig":30,"mse":0.0362},{"T":2000,"sig":50,"mse":0.0352},{"T":2000,"sig":70,"mse":0.0346},{"T":2000,"sig":100,"mse":0.0339},{"T":2000,"sig":140,"mse":0.033},{"T":2000,"sig":200,"mse":0.0318},{"T":2000,"sig":300,"mse":0.0298},{"T":2000,"sig":500,"mse":0.0292},{"T":2000,"sig":700,"mse":0.0306},{"T":2000,"sig":1000,"mse":0.0323}
],
"br":[
{"T":2,"sig":0.5,"mse":0.0065},{"T":2,"sig":1,"mse":0.0146},{"T":2,"sig":1.4,"mse":0.0215},{"T":2,"sig":2,"mse":0.0282},{"T":2,"sig":2.5,"mse":0.0325},{"T":2,"sig":3.3,"mse":0.0375},{"T":2,"sig":5,"mse":0.0434},{"T":2,"sig":7,"mse":0.0465},{"T":2,"sig":10,"mse":0.0491},{"T":2,"sig":14,"mse":0.0508},{"T":2,"sig":20,"mse":0.0522},{"T":2,"sig":30,"mse":0.053},{"T":2,"sig":50,"mse":0.0537},{"T":2,"sig":70,"mse":0.054},{"T":2,"sig":100,"mse":0.0542},{"T":2,"sig":140,"mse":0.0544},{"T":2,"sig":200,"mse":0.0545},{"T":2,"sig":300,"mse":0.0546},{"T":2,"sig":500,"mse":0.0547},{"T":2,"sig":700,"mse":0.0547},{"T":2,"sig":1000,"mse":0.0548},
{"T":5,"sig":0.5,"mse":0.0065},{"T":5,"sig":1,"mse":0.0075},{"T":5,"sig":1.4,"mse":0.0095},{"T":5,"sig":2,"mse":0.0136},{"T":5,"sig":2.5,"mse":0.017},{"T":5,"sig":3.3,"mse":0.0225},{"T":5,"sig":5,"mse":0.0309},{"T":5,"sig":7,"mse":0.0365},{"T":5,"sig":10,"mse":0.0406},{"T":5,"sig":14,"mse":0.0442},{"T":5,"sig":20,"mse":0.0473},{"T":5,"sig":30,"mse":0.0502},{"T":5,"sig":50,"mse":0.0522},{"T":5,"sig":70,"mse":0.053},{"T":5,"sig":100,"mse":0.0536},{"T":5,"sig":140,"mse":0.054},{"T":5,"sig":200,"mse":0.0542},{"T":5,"sig":300,"mse":0.0544},{"T":5,"sig":500,"mse":0.0546},{"T":5,"sig":700,"mse":0.0547},{"T":5,"sig":1000,"mse":0.0548},
{"T":10,"sig":0.5,"mse":0.0063},{"T":10,"sig":1,"mse":0.0063},{"T":10,"sig":1.4,"mse":0.0065},{"T":10,"sig":2,"mse":0.007},{"T":10,"sig":2.5,"mse":0.009},{"T":10,"sig":3.3,"mse":0.0125},{"T":10,"sig":5,"mse":0.0191},{"T":10,"sig":7,"mse":0.0262},{"T":10,"sig":10,"mse":0.033},{"T":10,"sig":14,"mse":0.038},{"T":10,"sig":20,"mse":0.043},{"T":10,"sig":30,"mse":0.047},{"T":10,"sig":50,"mse":0.0505},{"T":10,"sig":70,"mse":0.0519},{"T":10,"sig":100,"mse":0.0529},{"T":10,"sig":140,"mse":0.0535},{"T":10,"sig":200,"mse":0.0539},{"T":10,"sig":300,"mse":0.0542},{"T":10,"sig":500,"mse":0.0545},{"T":10,"sig":700,"mse":0.0546},{"T":10,"sig":1000,"mse":0.0547},
{"T":20,"sig":0.5,"mse":0.0062},{"T":20,"sig":1,"mse":0.0062},{"T":20,"sig":1.4,"mse":0.0062},{"T":20,"sig":2,"mse":0.0062},{"T":20,"sig":2.5,"mse":0.0063},{"T":20,"sig":3.3,"mse":0.0068},{"T":20,"sig":5,"mse":0.0095},{"T":20,"sig":7,"mse":0.0135},{"T":20,"sig":10,"mse":0.0195},{"T":20,"sig":14,"mse":0.0255},{"T":20,"sig":20,"mse":0.0309},{"T":20,"sig":30,"mse":0.037},{"T":20,"sig":50,"mse":0.0438},{"T":20,"sig":70,"mse":0.0468},{"T":20,"sig":100,"mse":0.0493},{"T":20,"sig":140,"mse":0.051},{"T":20,"sig":200,"mse":0.0524},{"T":20,"sig":300,"mse":0.0533},{"T":20,"sig":500,"mse":0.054},{"T":20,"sig":700,"mse":0.0543},{"T":20,"sig":1000,"mse":0.0545},
{"T":30,"sig":0.5,"mse":0.006},{"T":30,"sig":1,"mse":0.006},{"T":30,"sig":1.4,"mse":0.006},{"T":30,"sig":2,"mse":0.006},{"T":30,"sig":2.5,"mse":0.006},{"T":30,"sig":3.3,"mse":0.0061},{"T":30,"sig":5,"mse":0.0068},{"T":30,"sig":7,"mse":0.0085},{"T":30,"sig":10,"mse":0.013},{"T":30,"sig":14,"mse":0.018},{"T":30,"sig":20,"mse":0.0236},{"T":30,"sig":30,"mse":0.03},{"T":30,"sig":50,"mse":0.0377},{"T":30,"sig":70,"mse":0.0425},{"T":30,"sig":100,"mse":0.0464},{"T":30,"sig":140,"mse":0.049},{"T":30,"sig":200,"mse":0.051},{"T":30,"sig":300,"mse":0.0524},{"T":30,"sig":500,"mse":0.0535},{"T":30,"sig":700,"mse":0.054},{"T":30,"sig":1000,"mse":0.0543},
{"T":75,"sig":0.5,"mse":0.0062},{"T":75,"sig":1,"mse":0.0062},{"T":75,"sig":1.4,"mse":0.0062},{"T":75,"sig":2,"mse":0.0062},{"T":75,"sig":2.5,"mse":0.0062},{"T":75,"sig":3.3,"mse":0.0062},{"T":75,"sig":5,"mse":0.0063},{"T":75,"sig":7,"mse":0.0064},{"T":75,"sig":10,"mse":0.0066},{"T":75,"sig":14,"mse":0.0075},{"T":75,"sig":20,"mse":0.0095},{"T":75,"sig":30,"mse":0.0145},{"T":75,"sig":50,"mse":0.0227},{"T":75,"sig":70,"mse":0.0295},{"T":75,"sig":100,"mse":0.0355},{"T":75,"sig":140,"mse":0.0405},{"T":75,"sig":200,"mse":0.0441},{"T":75,"sig":300,"mse":0.048},{"T":75,"sig":500,"mse":0.0508},{"T":75,"sig":700,"mse":0.0518},{"T":75,"sig":1000,"mse":0.0525},
{"T":100,"sig":0.5,"mse":0.0062},{"T":100,"sig":1,"mse":0.0062},{"T":100,"sig":1.4,"mse":0.0062},{"T":100,"sig":2,"mse":0.0062},{"T":100,"sig":2.5,"mse":0.0062},{"T":100,"sig":3.3,"mse":0.0062},{"T":100,"sig":5,"mse":0.0062},{"T":100,"sig":7,"mse":0.0062},{"T":100,"sig":10,"mse":0.0062},{"T":100,"sig":14,"mse":0.0068},{"T":100,"sig":20,"mse":0.0085},{"T":100,"sig":30,"mse":0.0125},{"T":100,"sig":50,"mse":0.0195},{"T":100,"sig":70,"mse":0.026},{"T":100,"sig":100,"mse":0.0323},{"T":100,"sig":140,"mse":0.037},{"T":100,"sig":200,"mse":0.0423},{"T":100,"sig":300,"mse":0.0465},{"T":100,"sig":500,"mse":0.0495},{"T":100,"sig":700,"mse":0.0508},{"T":100,"sig":1000,"mse":0.0518},
{"T":500,"sig":0.5,"mse":0.0062},{"T":500,"sig":1,"mse":0.0062},{"T":500,"sig":1.4,"mse":0.0062},{"T":500,"sig":2,"mse":0.0062},{"T":500,"sig":2.5,"mse":0.0062},{"T":500,"sig":3.3,"mse":0.0062},{"T":500,"sig":5,"mse":0.0062},{"T":500,"sig":7,"mse":0.0062},{"T":500,"sig":10,"mse":0.0062},{"T":500,"sig":14,"mse":0.0062},{"T":500,"sig":20,"mse":0.0062},{"T":500,"sig":30,"mse":0.0062},{"T":500,"sig":50,"mse":0.0063},{"T":500,"sig":70,"mse":0.0072},{"T":500,"sig":100,"mse":0.009},{"T":500,"sig":140,"mse":0.0125},{"T":500,"sig":200,"mse":0.0186},{"T":500,"sig":300,"mse":0.026},{"T":500,"sig":500,"mse":0.0332},{"T":500,"sig":700,"mse":0.0375},{"T":500,"sig":1000,"mse":0.0414},
{"T":2000,"sig":0.5,"mse":0.0062},{"T":2000,"sig":1,"mse":0.0062},{"T":2000,"sig":1.4,"mse":0.0062},{"T":2000,"sig":2,"mse":0.0062},{"T":2000,"sig":2.5,"mse":0.0062},{"T":2000,"sig":3.3,"mse":0.0062},{"T":2000,"sig":5,"mse":0.0062},{"T":2000,"sig":7,"mse":0.0062},{"T":2000,"sig":10,"mse":0.0062},{"T":2000,"sig":14,"mse":0.0062},{"T":2000,"sig":20,"mse":0.0062},{"T":2000,"sig":30,"mse":0.0062},{"T":2000,"sig":50,"mse":0.0062},{"T":2000,"sig":70,"mse":0.0062},{"T":2000,"sig":100,"mse":0.0062},{"T":2000,"sig":140,"mse":0.0062},{"T":2000,"sig":200,"mse":0.0063},{"T":2000,"sig":300,"mse":0.0077},{"T":2000,"sig":500,"mse":0.0105},{"T":2000,"sig":700,"mse":0.0145},{"T":2000,"sig":1000,"mse":0.0198}
]
},
"vconcat":[
{"hconcat":[
{"width":233,"height":201,"data":{"name":"tl"},
"layer":[
{"mark":{"type":"line","strokeWidth":1.8,"clip":true},
"encoding":{
"x":{"field":"it","type":"quantitative","scale":{"type":"log","domain":[1,10000]},"axis":{"values":[1,100,10000],"labelExpr":"datum.value==1?'10⁰':datum.value==100?'10²':'10⁴'","title":"Boosting Iterations","titleFontSize":24,"labelPadding":10,"titlePadding":2}},
"y":{"field":"mse","type":"quantitative","scale":{"domain":[0.05,0.25],"nice":false},"axis":{"values":[0.05,0.1,0.15,0.2,0.25],"format":"~g","title":"MSE","labelPadding":5,"titlePadding":6}},
"color":{"field":"k","type":"quantitative","scale":{"type":"threshold","domain":[1,2,3,4,5,6,7,8,9,10,11,12,13,14,15],"range":["#ff0000","#ff6000","#ffbf00","#dfff00","#80ff00","#20ff00","#00ff40","#00ff9f","#00ffff","#009fff","#0040ff","#2000ff","#8000ff","#df00ff","#ff00bf","#ff0060"]},
"legend":{"type":"gradient","direction":"vertical","orient":"right","offset":8,"padding":0,"title":null,"gradientLength":201,"gradientThickness":13,"gradientStrokeColor":"black","gradientStrokeWidth":1,"labelOffset":3,"labelOverlap":false,"labelExpr":"datum.value==1?'0.5':datum.value==3?'1.4':datum.value==5?'3.3':datum.value==7?'12.5':datum.value==9?'25':datum.value==11?'111.1':datum.value==13?'200':datum.value==15?'1000':''"}},
"detail":{"field":"k","type":"nominal"}}},
{"mark":{"type":"line","strokeOpacity":0},
"encoding":{
"x":{"field":"it","type":"quantitative","scale":{"type":"log","domain":[1,10000]},"axis":{"orient":"top","values":[1,100,10000],"labels":false,"title":null}},
"y":{"field":"mse","type":"quantitative","scale":{"domain":[0.05,0.25],"nice":false},"axis":{"orient":"right","values":[0.05,0.1,0.15,0.2,0.25],"labels":false,"title":null}},
"detail":{"field":"k","type":"nominal"}}}
],
"resolve":{"axis":{"x":"independent","y":"independent"}}},
{"width":226,"height":201,"data":{"name":"tm"},
"layer":[
{"mark":{"type":"line","strokeWidth":1.8,"clip":true},
"encoding":{
"x":{"field":"it","type":"quantitative","scale":{"type":"log","domain":[1,10000]},"axis":{"values":[1,100,10000],"labelExpr":"datum.value==1?'10⁰':datum.value==100?'10²':'10⁴'","title":"Boosting Iterations","titleFontSize":24,"labelPadding":10,"titlePadding":2}},
"y":{"field":"mse","type":"quantitative","scale":{"domain":[0.025,0.055],"nice":false},"axis":{"values":[0.025,0.03,0.035,0.04,0.045,0.05,0.055],"format":"~g","title":"MSE","labelPadding":5,"titlePadding":6}},
"color":{"field":"k","type":"quantitative","scale":{"type":"threshold","domain":[1,2,3,4,5,6,7,8,9,10,11,12,13,14,15],"range":["#ff0000","#ff6000","#ffbf00","#dfff00","#80ff00","#20ff00","#00ff40","#00ff9f","#00ffff","#009fff","#0040ff","#2000ff","#8000ff","#df00ff","#ff00bf","#ff0060"]},
"legend":{"type":"gradient","direction":"vertical","orient":"right","offset":8,"padding":0,"title":null,"gradientLength":201,"gradientThickness":13,"gradientStrokeColor":"black","gradientStrokeWidth":1,"labelOffset":3,"labelOverlap":false,"labelExpr":"datum.value==1?'0.5':datum.value==3?'1.4':datum.value==5?'3.3':datum.value==7?'12.5':datum.value==9?'25':datum.value==11?'111.1':datum.value==13?'200':datum.value==15?'1000':''"}},
"detail":{"field":"k","type":"nominal"}}},
{"mark":{"type":"line","strokeOpacity":0},
"encoding":{
"x":{"field":"it","type":"quantitative","scale":{"type":"log","domain":[1,10000]},"axis":{"orient":"top","values":[1,100,10000],"labels":false,"title":null}},
"y":{"field":"mse","type":"quantitative","scale":{"domain":[0.025,0.055],"nice":false},"axis":{"orient":"right","values":[0.025,0.03,0.035,0.04,0.045,0.05,0.055],"labels":false,"title":null}},
"detail":{"field":"k","type":"nominal"}}}
],
"resolve":{"axis":{"x":"independent","y":"independent"}}},
{"width":230,"height":201,"data":{"name":"tr"},
"layer":[
{"mark":{"type":"line","strokeWidth":1.8,"clip":true},
"encoding":{
"x":{"field":"it","type":"quantitative","scale":{"type":"log","domain":[1,10000]},"axis":{"values":[1,100,10000],"labelExpr":"datum.value==1?'10⁰':datum.value==100?'10²':'10⁴'","title":"Boosting Iterations","titleFontSize":24,"labelPadding":10,"titlePadding":2}},
"y":{"field":"mse","type":"quantitative","scale":{"domain":[0,0.06],"nice":false},"axis":{"values":[0,0.01,0.02,0.03,0.04,0.05,0.06],"format":"~g","title":"MSE","labelPadding":5,"titlePadding":6}},
"color":{"field":"k","type":"quantitative","scale":{"type":"threshold","domain":[1,2,3,4,5,6,7,8,9,10,11,12,13,14,15],"range":["#ff0000","#ff6000","#ffbf00","#dfff00","#80ff00","#20ff00","#00ff40","#00ff9f","#00ffff","#009fff","#0040ff","#2000ff","#8000ff","#df00ff","#ff00bf","#ff0060"]},
"legend":{"type":"gradient","direction":"vertical","orient":"right","offset":8,"padding":0,"title":null,"gradientLength":201,"gradientThickness":13,"gradientStrokeColor":"black","gradientStrokeWidth":1,"labelOffset":3,"labelOverlap":false,"labelExpr":"datum.value==1?'0.5':datum.value==3?'1.4':datum.value==5?'3.3':datum.value==7?'12.5':datum.value==9?'25':datum.value==11?'111.1':datum.value==13?'200':datum.value==15?'1000':''"}},
"detail":{"field":"k","type":"nominal"}}},
{"mark":{"type":"line","strokeOpacity":0},
"encoding":{
"x":{"field":"it","type":"quantitative","scale":{"type":"log","domain":[1,10000]},"axis":{"orient":"top","values":[1,100,10000],"labels":false,"title":null}},
"y":{"field":"mse","type":"quantitative","scale":{"domain":[0,0.06],"nice":false},"axis":{"orient":"right","values":[0,0.01,0.02,0.03,0.04,0.05,0.06],"labels":false,"title":null}},
"detail":{"field":"k","type":"nominal"}}}
],
"resolve":{"axis":{"x":"independent","y":"independent"}}}
],
"spacing":35,
"resolve":{"scale":{"color":"independent"},"legend":{"color":"independent"}}},
{"hconcat":[
{"width":202,"height":220,"data":{"name":"bl"},
"layer":[
{"mark":{"type":"line","strokeWidth":1.8,"clip":true},
"encoding":{
"x":{"field":"sig","type":"quantitative","scale":{"type":"log","domain":[0.1,1000]},"axis":{"values":[0.1,1,10,100,1000],"format":"~g","title":"σ","titleFontSize":27,"labelPadding":9,"titlePadding":1}},
"y":{"field":"mse","type":"quantitative","scale":{"domain":[0.05,0.25],"nice":false},"axis":{"values":[0.05,0.1,0.15,0.2,0.25],"format":"~g","title":"MSE","labelPadding":8,"titlePadding":11}},
"color":{"field":"T","type":"ordinal","scale":{"domain":[2,5,10,20,30,75,100,500,2000],"range":["#ff0000","#ff6600","#ffcc00","#ccff00","#66ff00","#00ff00","#00ff66","#00ffcc","#00ccff"]},
"legend":{"orient":"right","offset":7,"padding":3,"strokeColor":"black","fillColor":"white","title":null,"symbolType":"M-1,0H3","symbolSize":100,"symbolStrokeWidth":2,"labelOffset":12,"labelFontSize":12.2,"rowPadding":2,"labelExpr":"'T=' + datum.label"}}}},
{"mark":{"type":"line","strokeOpacity":0},
"encoding":{
"x":{"field":"sig","type":"quantitative","scale":{"type":"log","domain":[0.1,1000]},"axis":{"orient":"top","values":[0.1,1,10,100,1000],"labels":false,"title":null}},
"y":{"field":"mse","type":"quantitative","scale":{"domain":[0.05,0.25],"nice":false},"axis":{"orient":"right","values":[0.05,0.1,0.15,0.2,0.25],"labels":false,"title":null}},
"detail":{"field":"T","type":"nominal"}}}
],
"resolve":{"axis":{"x":"independent","y":"independent"}}},
{"width":195,"height":220,"data":{"name":"bm"},
"layer":[
{"mark":{"type":"line","strokeWidth":1.8,"clip":true},
"encoding":{
"x":{"field":"sig","type":"quantitative","scale":{"type":"log","domain":[0.1,1000]},"axis":{"values":[0.1,1,10,100,1000],"format":"~g","title":"σ","titleFontSize":27,"labelPadding":9,"titlePadding":1}},
"y":{"field":"mse","type":"quantitative","scale":{"domain":[0.025,0.055],"nice":false},"axis":{"values":[0.025,0.03,0.035,0.04,0.045,0.05,0.055],"format":"~g","labelExpr":"abs(datum.value-0.04)<1e-9 ? '.04' : datum.label","title":"MSE","labelPadding":8,"titlePadding":8}},
"color":{"field":"T","type":"ordinal","scale":{"domain":[2,5,10,20,30,75,100,500,2000],"range":["#ff0000","#ff6600","#ffcc00","#ccff00","#66ff00","#00ff00","#00ff66","#00ffcc","#00ccff"]},
"legend":{"orient":"right","offset":7,"padding":3,"strokeColor":"black","fillColor":"white","title":null,"symbolType":"M-1,0H3","symbolSize":100,"symbolStrokeWidth":2,"labelOffset":12,"labelFontSize":12.2,"rowPadding":2,"labelExpr":"'T=' + datum.label"}}}},
{"mark":{"type":"line","strokeOpacity":0},
"encoding":{
"x":{"field":"sig","type":"quantitative","scale":{"type":"log","domain":[0.1,1000]},"axis":{"orient":"top","values":[0.1,1,10,100,1000],"labels":false,"title":null}},
"y":{"field":"mse","type":"quantitative","scale":{"domain":[0.025,0.055],"nice":false},"axis":{"orient":"right","values":[0.025,0.03,0.035,0.04,0.045,0.05,0.055],"labels":false,"title":null}},
"detail":{"field":"T","type":"nominal"}}}
],
"resolve":{"axis":{"x":"independent","y":"independent"}}},
{"width":201,"height":220,"data":{"name":"br"},
"layer":[
{"mark":{"type":"line","strokeWidth":1.8,"clip":true},
"encoding":{
"x":{"field":"sig","type":"quantitative","scale":{"type":"log","domain":[0.1,1000]},"axis":{"values":[0.1,1,10,100,1000],"format":"~g","title":"σ","titleFontSize":27,"labelPadding":9,"titlePadding":1}},
"y":{"field":"mse","type":"quantitative","scale":{"domain":[0,0.06],"nice":false},"axis":{"values":[0,0.01,0.02,0.03,0.04,0.05,0.06],"format":"~g","title":"MSE","labelPadding":8,"titlePadding":4}},
"color":{"field":"T","type":"ordinal","scale":{"domain":[2,5,10,20,30,75,100,500,2000],"range":["#ff0000","#ff6600","#ffcc00","#ccff00","#66ff00","#00ff00","#00ff66","#00ffcc","#00ccff"]},
"legend":{"orient":"right","offset":7,"padding":3,"strokeColor":"black","fillColor":"white","title":null,"symbolType":"M-1,0H3","symbolSize":100,"symbolStrokeWidth":2,"labelOffset":12,"labelFontSize":12.2,"rowPadding":2,"labelExpr":"'T=' + datum.label"}}}},
{"mark":{"type":"line","strokeOpacity":0},
"encoding":{
"x":{"field":"sig","type":"quantitative","scale":{"type":"log","domain":[0.1,1000]},"axis":{"orient":"top","values":[0.1,1,10,100,1000],"labels":false,"title":null}},
"y":{"field":"mse","type":"quantitative","scale":{"domain":[0,0.06],"nice":false},"axis":{"orient":"right","values":[0,0.01,0.02,0.03,0.04,0.05,0.06],"labels":false,"title":null}},
"detail":{"field":"T","type":"nominal"}}}
],
"resolve":{"axis":{"x":"independent","y":"independent"}}}
],
"spacing":38,
"resolve":{"scale":{"color":"independent"},"legend":{"color":"independent"}}}
],
"spacing":13,
"resolve":{"scale":{"color":"independent"},"legend":{"color":"independent"}},
"config":{
"font":"Liberation Sans",
"view":{"stroke":"black","strokeWidth":1},
"axis":{"domain":false,"grid":false,"tickSize":-4,"tickColor":"black","tickWidth":1,"labelColor":"#111","labelFontSize":12,"labelFlush":false,"labelOverlap":false,"titleColor":"black","titleFontWeight":"normal","titleFontSize":22},
"legend":{"labelColor":"#111","labelFontSize":12}
}
}
